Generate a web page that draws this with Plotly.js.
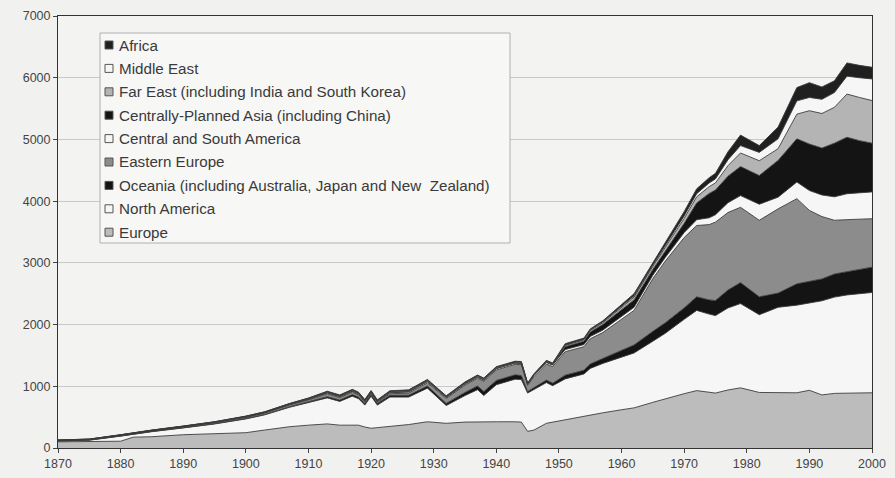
<!DOCTYPE html>
<html>
<head>
<meta charset="utf-8">
<script src="https://cdn.plot.ly/plotly-3.0.1.min.js"></script>
<style>html,body{margin:0;padding:0;background:#f1f1f0;}#chart{width:895px;height:478px;}</style>
</head>
<body>
<div id="chart"></div>
<script>
const years = [1870,1875,1880,1882,1885,1890,1895,1900,1903,1907,1910,1913,1915,1917,1918,1919,1920,1921,1923,1926,1929,1932,1935,1937,1938,1940,1943,1944,1945,1946,1948,1949,1951,1954,1955,1957,1960,1962,1965,1967,1970,1972,1974,1975,1977,1979,1982,1985,1988,1990,1992,1994,1996,1998,2000];

const europe = [100,100,110,175,183,215,237,248,291,345, 370,390,370,375,370, 340,320,330,350,380, 425,400,420,425,420, 425,425,420,270,290, 400,420,450,510,540, 570,620,650,740,800, 880,930,900,890,940, 975,900,900,895,935, 860,885,890,895,895];
const northAmerica = [13,27,82,48,82,110,152,223,246,315, 362,422,385,465,430, 355,520,365,475,445, 545,288,430,520,430, 600,690,690,620,660, 660,590,670,690,750, 800,850,890,990,1060, 1205,1300,1270,1255,1330, 1365,1260,1380,1420,1420, 1525,1560,1590,1605,1625];
const oceania = [2,2,3,3,3,4,5,6,7,10, 15,20,22,25,25, 25,25,25,28,30, 35,35,50,60,65, 70,70,65,25,25, 40,40,60,61,70, 80,110,130,160,170, 185,220,230,245,290, 340,290,230,345,345, 355,375,380,400,410];
const easternEurope = [5,6,8,9,10,12,15,20,22,27, 33,45,40,40,35, 20,20,15,25,35, 50,80,120,125,165, 170,170,175,100,180, 260,270,380,380,410, 420,500,560,855,1000, 1140,1155,1220,1270,1255, 1220,1240,1365,1380,1150, 1010,870,840,810,785];
const centralSouthAmerica = [2,2,3,3,3,4,4,5,6,8, 10,15,15,15,15, 15,16,15,17,18, 20,15,18,18,18, 20,20,20,18,22, 25,25,35,35,38, 40,45,50,55,60, 80,95,110,120,160, 190,260,190,270,322, 350,380,420,430,435];
const centrallyPlannedAsia = [3,3,3,3,3,3,4,4,4,5, 5,6,6,6,6, 6,6,6,7,7, 8,8,8,8,8, 8,8,8,4,5, 8,6,45,55,70, 90,110,120,93,107, 150,270,395,400,430, 470,465,595,700,753, 760,870,915,840,790];
const farEast = [3,3,4,4,4,5,5,6,6,7, 8,10,10,11,11, 11,11,11,12,12, 13,10,12,14,14, 12,10,10,5,6, 10,10,20,22,25, 28,40,45,50,60, 80,100,110,115,170, 220,240,190,400,540, 560,580,700,700,690];
const middleEast = [1,1,1,1,1,1,2,2,2,2, 3,4,4,4,4, 4,4,4,4,5, 5,4,5,5,5, 5,5,5,4,5, 7,7,10,10,12, 14,18,20,22,28, 40,50,60,65,95, 120,135,160,215,215, 230,240,290,320,350];
const africa = [1,1,1,1,2,2,2,3,3,3, 4,8,8,9,9, 9,9,9,9,10, 10,5,7,8,8, 8,8,8,7,8, 10,10,20,18,15, 18,27,35,35,45, 70,80,85,90,130, 170,110,190,215,240, 200,190,215,200,190];

const seriesNames = ["Europe","North America","Oceania (including Australia, Japan and New  Zealand)","Eastern Europe","Central and South America","Centrally-Planned Asia (including China)","Far East (including India and South Korea)","Middle East","Africa"];
const seriesValues = [europe, northAmerica, oceania, easternEurope, centralSouthAmerica, centrallyPlannedAsia, farEast, middleEast, africa];
const seriesColors = ["#bcbcbc","#f6f6f6","#141414","#8c8c8c","#f6f6f6","#141414","#b4b4b4","#f6f6f6","#202020"];

const traces = seriesValues.map((vals, i) => ({
  x: years, y: vals, type: 'scatter', mode: 'lines',
  stackgroup: 'one', fillcolor: seriesColors[i],
  line: {color: '#3a3a3a', width: 0.9},
  name: seriesNames[i], showlegend: false, hoverinfo: 'skip'
}));

// Manual legend (paper coordinates derived from the plot area in pixels)
const plotL = 58, plotW = 814, plotT = 16, plotH = 432;
const px = v => (v - plotL) / plotW;
const py = v => (plotT + plotH - v) / plotH;
const shapes = [{
  type: 'rect', xref: 'paper', yref: 'paper',
  x0: px(100), x1: px(510), y0: py(243), y1: py(33),
  fillcolor: '#f7f7f6', line: {color: '#b0b0b0', width: 1}, layer: 'above'
}];
const annotations = [];
const legendOrder = seriesNames.map((n, i) => i).reverse();
legendOrder.forEach((si, k) => {
  const yc = 45 + k * 23.4;
  shapes.push({
    type: 'rect', xref: 'paper', yref: 'paper',
    x0: px(105), x1: px(113), y0: py(yc + 4), y1: py(yc - 4),
    fillcolor: seriesColors[si], line: {color: '#555', width: 1}, layer: 'above'
  });
  annotations.push({
    xref: 'paper', yref: 'paper', x: px(117), y: py(yc),
    xanchor: 'left', yanchor: 'middle', showarrow: false,
    text: seriesNames[si],
    font: {size: 15.2, color: '#3a3a3a', family: 'Liberation Sans, Arial, sans-serif'}
  });
});

const layout = {
  width: 895, height: 478,
  margin: {l: 58, r: 23, t: 16, b: 30},
  paper_bgcolor: '#f1f1f0',
  plot_bgcolor: '#f3f3f2',
  font: {family: 'Liberation Sans, Arial, sans-serif', color: '#444', size: 12},
  showlegend: false,
  shapes: shapes,
  annotations: annotations,
  xaxis: {
    range: [1870, 2000], tick0: 1870, dtick: 10,
    showgrid: false, zeroline: false,
    showline: true, linecolor: '#333', linewidth: 1, mirror: true,
    ticks: 'outside', ticklen: 4, tickcolor: '#444',
    tickfont: {size: 12.5, color: '#444'}
  },
  yaxis: {
    range: [0, 7000], dtick: 1000,
    showgrid: true, gridcolor: '#c9c9c9', gridwidth: 1,
    zeroline: false,
    showline: true, linecolor: '#333', linewidth: 1, mirror: true,
    ticks: 'outside', ticklen: 4, tickcolor: '#444',
    tickfont: {size: 12.5, color: '#444'}
  }
};

Plotly.newPlot('chart', traces, layout, {displayModeBar: false, staticPlot: true});
</script>
</body>
</html>
